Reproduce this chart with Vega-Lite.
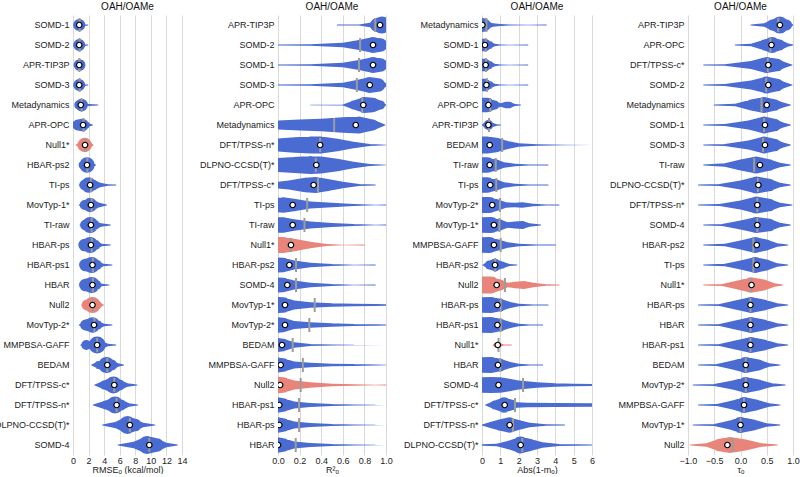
{
  "$schema": "https://vega.github.io/schema/vega-lite/v6.json",
  "background": "white",
  "padding": {"left": -6, "top": 2, "right": 0, "bottom": 0},
  "bounds": "flush",
  "spacing": 96,
  "resolve": {"scale": {"x": "independent", "y": "independent"}},
  "config": {
    "font": "Liberation Sans",
    "view": {"stroke": null},
    "axis": {"labelFont": "Liberation Sans", "titleFont": "Liberation Sans", "labelFontSize": 9, "titleFontSize": 9, "titleFontWeight": "normal", "labelColor": "#222222", "titleColor": "#222222"},
    "axisX": {"grid": true, "gridColor": "#d9d9d9", "gridWidth": 1, "domain": false, "ticks": false, "labelPadding": 1, "titlePadding": 0, "labelOverlap": false, "labelFlush": false, "tickCount": 20},
    "axisY": {"grid": false, "domain": false, "ticks": false, "labelPadding": 4},
    "title": {"fontSize": 10, "fontWeight": "normal", "font": "Liberation Sans", "color": "#111111", "offset": 3}
  },
  "datasets": {
    "p1": [
      {"m":"SOMD-1","t":"m","med":0.8,"mean":0.85,"x":[0.3,0.6,0.8,1.0,1.3,1.9],"w":[0,0.5,0.68,0.5,0.15,0]},
      {"m":"SOMD-2","t":"m","med":0.8,"mean":0.85,"x":[0.3,0.6,0.8,1.0,1.3,1.9],"w":[0,0.5,0.66,0.5,0.15,0]},
      {"m":"APR-TIP3P","t":"m","med":0.8,"mean":0.82,"x":[0.4,0.65,0.85,1.0,1.3],"w":[0,0.5,0.65,0.4,0]},
      {"m":"SOMD-3","t":"m","med":0.8,"mean":0.85,"x":[0.3,0.6,0.8,1.0,1.3,1.9],"w":[0,0.5,0.66,0.5,0.15,0]},
      {"m":"Metadynamics","t":"m","med":1.0,"mean":1.1,"x":[0.4,0.8,1.1,1.5,2.0,3.2],"w":[0,0.55,0.7,0.35,0.12,0]},
      {"m":"APR-OPC","t":"m","med":1.3,"mean":1.35,"x":[0.3,0.6,1.2,1.6,2.0,2.5],"w":[0,0.6,0.7,0.45,0.2,0]},
      {"m":"Null1*","t":"n","med":1.55,"mean":1.6,"x":[0.4,1.0,1.5,2.0,2.6],"w":[0,0.4,0.8,0.4,0]},
      {"m":"HBAR-ps2","t":"m","med":1.8,"mean":1.85,"x":[0.8,1.3,1.8,2.3,2.9],"w":[0,0.5,0.85,0.4,0]},
      {"m":"TI-ps","t":"m","med":2.2,"mean":2.3,"x":[0.8,1.5,2.0,2.6,3.5,4.5,5.5],"w":[0,0.6,0.85,0.6,0.25,0.08,0]},
      {"m":"MovTyp-1*","t":"m","med":2.3,"mean":2.4,"x":[0.8,1.5,2.2,2.8,3.4,4.3],"w":[0,0.55,0.8,0.45,0.25,0]},
      {"m":"TI-raw","t":"m","med":2.3,"mean":2.4,"x":[0.9,1.6,2.2,2.8,3.6,4.8],"w":[0,0.6,0.9,0.55,0.2,0]},
      {"m":"HBAR-ps","t":"m","med":2.3,"mean":2.4,"x":[0.8,1.5,2.2,2.9,3.7,4.8],"w":[0,0.7,0.9,0.55,0.15,0]},
      {"m":"HBAR-ps1","t":"m","med":2.5,"mean":2.55,"x":[0.8,1.6,2.4,3.1,3.9,5.0],"w":[0,0.7,0.9,0.55,0.15,0]},
      {"m":"HBAR","t":"m","med":2.5,"mean":2.55,"x":[0.8,1.6,2.4,3.0,3.7,4.6],"w":[0,0.7,0.9,0.55,0.15,0]},
      {"m":"Null2","t":"n","med":2.5,"mean":2.55,"x":[1.1,1.8,2.5,3.1,3.9],"w":[0,0.6,0.9,0.5,0]},
      {"m":"MovTyp-2*","t":"m","med":2.7,"mean":2.75,"x":[0.8,1.6,2.5,3.2,4.0,5.0],"w":[0,0.6,0.85,0.5,0.15,0]},
      {"m":"MMPBSA-GAFF","t":"m","med":3.1,"mean":3.1,"x":[1.0,1.7,2.2,2.7,3.1,3.7,4.5,5.5],"w":[0,0.55,0.35,0.6,0.95,0.45,0.15,0]},
      {"m":"BEDAM","t":"m","med":4.4,"mean":4.4,"x":[2.4,3.3,4.3,5.0,5.8,6.5],"w":[0,0.45,0.9,0.6,0.2,0]},
      {"m":"DFT/TPSS-c*","t":"m","med":5.3,"mean":5.3,"x":[2.8,4.0,5.2,6.0,7.0,8.2],"w":[0,0.5,0.95,0.6,0.2,0]},
      {"m":"DFT/TPSS-n*","t":"m","med":5.6,"mean":5.6,"x":[2.6,4.2,5.4,6.2,7.2,8.3],"w":[0,0.5,0.95,0.6,0.2,0]},
      {"m":"DLPNO-CCSD(T)*","t":"m","med":7.3,"mean":7.3,"x":[3.8,5.5,7.0,8.0,9.0,10.5],"w":[0,0.35,1.0,0.7,0.25,0]},
      {"m":"SOMD-4","t":"m","med":9.8,"mean":9.8,"x":[5.8,7.8,9.5,10.8,12.0,13.4],"w":[0,0.35,1.0,0.75,0.25,0]}
    ],
    "p2": [
      {"m":"APR-TIP3P","t":"m","med":0.945,"mean":0.9,"x":[0.55,0.75,0.85,0.92,0.96,0.99,1.02],"w":[0,0.06,0.25,0.8,0.95,0.6,0]},
      {"m":"SOMD-2","t":"m","med":0.88,"mean":0.76,"x":[-0.02,0.3,0.6,0.75,0.88,0.95,1.0,1.02],"w":[0.05,0.08,0.25,0.55,0.9,0.75,0.2,0]},
      {"m":"SOMD-1","t":"m","med":0.88,"mean":0.75,"x":[-0.02,0.3,0.6,0.75,0.88,0.95,1.0,1.02],"w":[0.05,0.08,0.25,0.55,0.9,0.75,0.2,0]},
      {"m":"SOMD-3","t":"m","med":0.85,"mean":0.73,"x":[-0.02,0.3,0.6,0.73,0.85,0.93,1.0,1.02],"w":[0.05,0.08,0.25,0.55,0.9,0.75,0.2,0]},
      {"m":"APR-OPC","t":"m","med":0.79,"mean":0.78,"x":[0.3,0.6,0.7,0.8,0.88,0.95,1.0],"w":[0.02,0.05,0.5,0.9,0.8,0.5,0]},
      {"m":"Metadynamics","t":"m","med":0.72,"mean":0.52,"x":[-0.02,0.2,0.4,0.6,0.75,0.88,0.99],"w":[0.5,0.6,0.7,0.85,0.95,0.6,0]},
      {"m":"DFT/TPSS-n*","t":"m","med":0.39,"mean":0.39,"x":[-0.02,0.15,0.3,0.4,0.55,0.7,0.85,1.0],"w":[0.7,0.85,0.95,0.95,0.7,0.35,0.1,0.02]},
      {"m":"DLPNO-CCSD(T)*","t":"m","med":0.355,"mean":0.35,"x":[-0.02,0.15,0.3,0.4,0.55,0.7,0.85,1.0],"w":[0.75,0.9,1.0,0.95,0.7,0.35,0.12,0.02]},
      {"m":"DFT/TPSS-c*","t":"m","med":0.33,"mean":0.37,"x":[-0.02,0.1,0.25,0.35,0.45,0.6,0.75,0.9],"w":[0.35,0.5,0.8,0.9,0.7,0.35,0.1,0]},
      {"m":"TI-ps","t":"m","med":0.136,"mean":0.27,"x":[-0.02,0.05,0.15,0.3,0.5,0.7,0.9,1.0],"w":[0.8,0.85,0.7,0.4,0.25,0.12,0.04,0]},
      {"m":"TI-raw","t":"m","med":0.136,"mean":0.245,"x":[-0.02,0.05,0.15,0.3,0.5,0.7,0.9,1.0],"w":[0.85,0.85,0.65,0.4,0.22,0.1,0.03,0]},
      {"m":"Null1*","t":"n","med":0.12,"mean":0.12,"x":[-0.02,0.05,0.15,0.3,0.45,0.6,0.8],"w":[0.9,0.9,0.7,0.35,0.12,0.03,0]},
      {"m":"HBAR-ps2","t":"m","med":0.105,"mean":0.167,"x":[-0.02,0.05,0.15,0.3,0.5,0.7,0.9],"w":[0.85,0.8,0.5,0.25,0.1,0.04,0]},
      {"m":"SOMD-4","t":"m","med":0.086,"mean":0.167,"x":[-0.02,0.05,0.15,0.3,0.5,0.7,0.9],"w":[0.85,0.8,0.5,0.25,0.1,0.04,0]},
      {"m":"MovTyp-1*","t":"m","med":0.065,"mean":0.34,"x":[-0.02,0.05,0.15,0.3,0.5,0.7,0.9,1.02],"w":[0.9,0.85,0.5,0.3,0.2,0.15,0.1,0.08]},
      {"m":"MovTyp-2*","t":"m","med":0.065,"mean":0.29,"x":[-0.02,0.05,0.15,0.3,0.5,0.7,0.9,1.02],"w":[0.9,0.8,0.45,0.3,0.2,0.12,0.08,0.04]},
      {"m":"BEDAM","t":"m","med":0.037,"mean":0.136,"x":[-0.02,0.05,0.15,0.3,0.5,0.7,1.0],"w":[0.8,0.7,0.3,0.12,0.06,0.03,0.01]},
      {"m":"MMPBSA-GAFF","t":"m","med":0.025,"mean":0.23,"x":[-0.02,0.05,0.15,0.3,0.5,0.7,0.9,1.0],"w":[0.85,0.75,0.4,0.25,0.15,0.1,0.05,0.02]},
      {"m":"Null2","t":"n","med":0.02,"mean":0.21,"x":[-0.02,0.05,0.15,0.3,0.5,0.7,0.9,1.0],"w":[0.95,0.85,0.5,0.3,0.15,0.08,0.03,0]},
      {"m":"HBAR-ps1","t":"m","med":0.012,"mean":0.195,"x":[-0.02,0.05,0.15,0.3,0.5,0.7,0.9,1.0],"w":[0.9,0.75,0.4,0.22,0.12,0.06,0.03,0.01]},
      {"m":"HBAR-ps","t":"m","med":0.012,"mean":0.195,"x":[-0.02,0.05,0.15,0.3,0.5,0.7,0.9,1.0],"w":[0.9,0.75,0.4,0.22,0.12,0.06,0.03,0.01]},
      {"m":"HBAR","t":"m","med":0.0,"mean":0.164,"x":[-0.02,0.05,0.15,0.3,0.5,0.7,0.9,1.0],"w":[0.9,0.75,0.4,0.22,0.12,0.06,0.03,0.01]}
    ],
    "p3": [
      {"m":"Metadynamics","t":"m","med":0.02,"mean":0.24,"x":[-0.05,0.1,0.3,0.6,1.0,1.5,2.5,3.5],"w":[0.8,0.75,0.45,0.2,0.1,0.05,0.02,0]},
      {"m":"SOMD-1","t":"m","med":0.16,"mean":0.2,"x":[-0.05,0.15,0.4,0.7,1.0,1.5,2.5],"w":[0.7,0.7,0.45,0.15,0.06,0.02,0]},
      {"m":"SOMD-3","t":"m","med":0.2,"mean":0.22,"x":[-0.05,0.15,0.4,0.7,1.0,1.5,2.5],"w":[0.7,0.7,0.45,0.15,0.06,0.02,0]},
      {"m":"SOMD-2","t":"m","med":0.24,"mean":0.26,"x":[-0.05,0.15,0.4,0.7,1.0,1.5,2.5],"w":[0.7,0.7,0.45,0.15,0.06,0.02,0]},
      {"m":"APR-OPC","t":"m","med":0.35,"mean":0.45,"x":[-0.05,0.3,0.7,1.0,1.3,1.5,1.8,2.1],"w":[0.8,0.8,0.5,0.2,0.35,0.35,0.1,0]},
      {"m":"APR-TIP3P","t":"m","med":0.35,"mean":0.38,"x":[0.0,0.2,0.35,0.5,0.8,1.0],"w":[0,0.3,0.55,0.3,0.08,0]},
      {"m":"BEDAM","t":"m","med":0.42,"mean":1.1,"x":[-0.05,0.3,0.8,1.3,2.0,3.0,4.5,6.0],"w":[0.95,0.95,0.8,0.5,0.2,0.08,0.03,0.01]},
      {"m":"TI-raw","t":"m","med":0.42,"mean":0.75,"x":[-0.05,0.3,0.8,1.2,1.8,2.6,3.6],"w":[0.85,0.85,0.6,0.3,0.15,0.05,0]},
      {"m":"TI-ps","t":"m","med":0.45,"mean":0.78,"x":[-0.05,0.3,0.8,1.2,1.8,2.6,3.6],"w":[0.85,0.85,0.6,0.3,0.15,0.05,0]},
      {"m":"MovTyp-2*","t":"m","med":0.56,"mean":0.98,"x":[-0.05,0.4,0.9,1.3,1.8,2.2,2.8,3.5,4.2],"w":[0.9,0.9,0.6,0.3,0.25,0.3,0.15,0.05,0]},
      {"m":"MovTyp-1*","t":"m","med":0.65,"mean":0.95,"x":[-0.05,0.5,1.0,1.4,1.8,2.2,2.6,3.2],"w":[0.85,0.9,0.6,0.3,0.4,0.45,0.2,0]},
      {"m":"MMPBSA-GAFF","t":"m","med":0.65,"mean":1.02,"x":[-0.05,0.4,0.9,1.4,2.0,3.0,4.0],"w":[0.85,0.9,0.6,0.3,0.15,0.05,0]},
      {"m":"HBAR-ps2","t":"m","med":0.71,"mean":0.72,"x":[0.05,0.4,0.7,1.1,1.5,1.9],"w":[0,0.5,0.7,0.4,0.12,0]},
      {"m":"Null2","t":"n","med":0.8,"mean":1.25,"x":[-0.05,0.5,1.0,1.4,1.8,2.3,2.8,3.5,4.2],"w":[0.95,0.95,0.6,0.25,0.35,0.45,0.25,0.08,0]},
      {"m":"HBAR-ps","t":"m","med":0.84,"mean":1.02,"x":[-0.05,0.5,1.0,1.5,2.0,2.8,3.6],"w":[0.85,0.9,0.7,0.35,0.15,0.05,0]},
      {"m":"HBAR-ps1","t":"m","med":0.84,"mean":1.02,"x":[-0.05,0.5,1.0,1.5,2.0,2.6,3.3],"w":[0.85,0.9,0.7,0.35,0.15,0.05,0]},
      {"m":"Null1*","t":"n","med":0.86,"mean":0.9,"x":[0.6,0.75,0.86,1.0,1.2,1.6],"w":[0,0.25,0.35,0.2,0.05,0]},
      {"m":"HBAR","t":"m","med":0.87,"mean":1.0,"x":[-0.05,0.5,1.0,1.5,2.0,2.6,3.3],"w":[0.85,0.9,0.7,0.35,0.15,0.05,0]},
      {"m":"SOMD-4","t":"m","med":0.9,"mean":2.24,"x":[-0.05,0.5,1.0,1.5,2.0,3.0,4.0,5.0,6.1],"w":[0.85,0.9,0.85,0.7,0.5,0.3,0.2,0.15,0.12]},
      {"m":"DFT/TPSS-c*","t":"m","med":1.24,"mean":1.8,"x":[0.2,0.7,1.2,1.6,1.9,2.5,4.0,6.1],"w":[0,0.5,0.85,0.6,0.3,0.25,0.22,0.2]},
      {"m":"DFT/TPSS-n*","t":"m","med":1.51,"mean":1.69,"x":[0.0,0.5,1.0,1.5,2.0,2.6,3.5,4.5],"w":[0.05,0.35,0.65,0.85,0.55,0.25,0.08,0]},
      {"m":"DLPNO-CCSD(T)*","t":"m","med":2.11,"mean":2.2,"x":[-0.05,0.8,1.5,2.1,2.6,3.3,4.2,6.0],"w":[0.08,0.15,0.5,0.95,0.7,0.3,0.1,0.05]}
    ],
    "p4": [
      {"m":"APR-TIP3P","t":"m","med":0.75,"mean":0.72,"x":[0.2,0.45,0.6,0.75,0.88,1.0],"w":[0,0.2,0.6,0.95,0.6,0]},
      {"m":"APR-OPC","t":"m","med":0.59,"mean":0.57,"x":[-0.1,0.2,0.45,0.6,0.75,0.9,1.0],"w":[0,0.15,0.6,0.9,0.6,0.2,0]},
      {"m":"DFT/TPSS-c*","t":"m","med":0.53,"mean":0.52,"x":[-0.7,-0.3,0.2,0.5,0.7,0.85,0.98],"w":[0,0.08,0.45,0.9,0.7,0.3,0]},
      {"m":"SOMD-2","t":"m","med":0.53,"mean":0.49,"x":[-0.7,-0.3,0.2,0.5,0.7,0.85,0.98],"w":[0,0.1,0.5,0.95,0.7,0.3,0]},
      {"m":"Metadynamics","t":"m","med":0.5,"mean":0.4,"x":[-0.5,-0.1,0.2,0.45,0.65,0.8,0.95],"w":[0,0.15,0.6,0.9,0.65,0.3,0]},
      {"m":"SOMD-1","t":"m","med":0.467,"mean":0.45,"x":[-0.7,-0.3,0.15,0.45,0.65,0.8,0.95],"w":[0,0.1,0.5,0.95,0.7,0.3,0]},
      {"m":"SOMD-3","t":"m","med":0.467,"mean":0.43,"x":[-0.7,-0.3,0.15,0.45,0.65,0.8,0.95],"w":[0,0.1,0.5,0.95,0.7,0.3,0]},
      {"m":"TI-raw","t":"m","med":0.37,"mean":0.26,"x":[-0.7,-0.3,0.0,0.3,0.55,0.75,0.95],"w":[0,0.2,0.6,0.95,0.65,0.25,0]},
      {"m":"DLPNO-CCSD(T)*","t":"m","med":0.34,"mean":0.33,"x":[-0.8,-0.4,0.0,0.3,0.55,0.75,0.95],"w":[0,0.1,0.5,0.95,0.7,0.25,0]},
      {"m":"DFT/TPSS-n*","t":"m","med":0.32,"mean":0.32,"x":[-0.8,-0.4,0.0,0.3,0.55,0.75,0.98],"w":[0,0.12,0.5,0.95,0.7,0.25,0]},
      {"m":"SOMD-4","t":"m","med":0.32,"mean":0.32,"x":[-0.7,-0.35,0.0,0.3,0.55,0.75,0.95],"w":[0,0.1,0.5,0.9,0.7,0.25,0]},
      {"m":"HBAR-ps2","t":"m","med":0.31,"mean":0.245,"x":[-0.7,-0.3,0.0,0.28,0.5,0.7,0.9],"w":[0,0.15,0.5,0.9,0.6,0.2,0]},
      {"m":"TI-ps","t":"m","med":0.31,"mean":0.245,"x":[-0.7,-0.3,0.0,0.28,0.5,0.7,0.9],"w":[0,0.15,0.5,0.9,0.6,0.2,0]},
      {"m":"Null1*","t":"n","med":0.21,"mean":0.2,"x":[-0.7,-0.35,-0.05,0.2,0.45,0.65,0.8],"w":[0,0.12,0.5,0.85,0.6,0.2,0]},
      {"m":"HBAR-ps","t":"m","med":0.19,"mean":0.19,"x":[-0.8,-0.4,-0.1,0.2,0.45,0.7,0.9],"w":[0,0.12,0.5,0.9,0.6,0.2,0]},
      {"m":"HBAR","t":"m","med":0.19,"mean":0.19,"x":[-0.8,-0.4,-0.1,0.2,0.45,0.7,0.9],"w":[0,0.12,0.5,0.9,0.6,0.2,0]},
      {"m":"HBAR-ps1","t":"m","med":0.19,"mean":0.19,"x":[-0.8,-0.4,-0.1,0.2,0.45,0.7,0.9],"w":[0,0.12,0.5,0.9,0.6,0.2,0]},
      {"m":"BEDAM","t":"m","med":0.1,"mean":0.1,"x":[-0.8,-0.45,-0.15,0.1,0.35,0.55,0.75],"w":[0,0.1,0.5,0.9,0.6,0.2,0]},
      {"m":"MovTyp-2*","t":"m","med":0.1,"mean":0.1,"x":[-0.9,-0.5,-0.15,0.1,0.35,0.6,0.85],"w":[0,0.1,0.5,0.9,0.6,0.2,0]},
      {"m":"MMPBSA-GAFF","t":"m","med":0.067,"mean":0.067,"x":[-0.8,-0.45,-0.15,0.07,0.3,0.55,0.75],"w":[0,0.1,0.5,0.9,0.6,0.2,0]},
      {"m":"MovTyp-1*","t":"m","med":0.0,"mean":0.0,"x":[-0.9,-0.5,-0.2,0.0,0.25,0.5,0.75],"w":[0,0.1,0.5,0.9,0.6,0.2,0]},
      {"m":"Null2","t":"n","med":-0.25,"mean":-0.15,"x":[-0.95,-0.65,-0.4,-0.2,0.1,0.4,0.7],"w":[0,0.2,0.7,0.9,0.6,0.2,0]}
    ]
  },
  "hconcat": [
    {
      "title": "OAH/OAMe",
      "width": 109, "height": 440,
      "data": {"name": "p1"},
      "encoding": {"y": {"field": "m", "type": "nominal", "sort": null, "axis": {"title": null}}},
      "layer": [
        {"transform": [{"flatten": ["x", "w"]}],
         "mark": {"type": "trail", "clip": true},
         "encoding": {
           "x": {"field": "x", "type": "quantitative", "scale": {"domain": [0, 14], "nice": false}, "axis": {"title": "RMSEₒ (kcal/mol)", "values": [0,2,4,6,8,10,12,14], "format": "d"}},
           "detail": {"field": "m"},
           "size": {"field": "w", "type": "quantitative", "scale": {"domain": [0, 1], "range": [0, 18]}, "legend": null},
           "color": {"field": "t", "type": "nominal", "scale": {"domain": ["m", "n"], "range": ["#4a6bd1", "#e8847a"]}, "legend": null}
         }},
        {"mark": {"type": "tick", "color": "#9c9c9c", "thickness": 2, "size": 14, "opacity": 1},
         "encoding": {"x": {"field": "mean", "type": "quantitative"}}},
        {"mark": {"type": "point", "filled": true, "fill": "white", "stroke": "black", "strokeWidth": 1.2, "size": 30, "opacity": 1, "clip": true},
         "encoding": {"x": {"field": "med", "type": "quantitative"}}}
      ]
    },
    {
      "title": "OAH/OAMe",
      "width": 108, "height": 440,
      "data": {"name": "p2"},
      "encoding": {"y": {"field": "m", "type": "nominal", "sort": null, "axis": {"title": null}}},
      "layer": [
        {"transform": [{"flatten": ["x", "w"]}],
         "mark": {"type": "trail", "clip": true},
         "encoding": {
           "x": {"field": "x", "type": "quantitative", "scale": {"domain": [0, 1], "nice": false}, "axis": {"title": "R²ₒ", "values": [0,0.2,0.4,0.6,0.8,1.0], "format": ".1f"}},
           "detail": {"field": "m"},
           "size": {"field": "w", "type": "quantitative", "scale": {"domain": [0, 1], "range": [0, 18]}, "legend": null},
           "color": {"field": "t", "type": "nominal", "scale": {"domain": ["m", "n"], "range": ["#4a6bd1", "#e8847a"]}, "legend": null}
         }},
        {"mark": {"type": "tick", "color": "#9c9c9c", "thickness": 2, "size": 14, "opacity": 1},
         "encoding": {"x": {"field": "mean", "type": "quantitative"}}},
        {"mark": {"type": "point", "filled": true, "fill": "white", "stroke": "black", "strokeWidth": 1.2, "size": 30, "opacity": 1, "clip": true},
         "encoding": {"x": {"field": "med", "type": "quantitative"}}}
      ]
    },
    {
      "title": "OAH/OAMe",
      "width": 110, "height": 440,
      "data": {"name": "p3"},
      "encoding": {"y": {"field": "m", "type": "nominal", "sort": null, "axis": {"title": null}}},
      "layer": [
        {"transform": [{"flatten": ["x", "w"]}],
         "mark": {"type": "trail", "clip": true},
         "encoding": {
           "x": {"field": "x", "type": "quantitative", "scale": {"domain": [0, 6], "nice": false}, "axis": {"title": "Abs(1-mₒ)", "values": [0,1,2,3,4,5,6], "format": "d"}},
           "detail": {"field": "m"},
           "size": {"field": "w", "type": "quantitative", "scale": {"domain": [0, 1], "range": [0, 18]}, "legend": null},
           "color": {"field": "t", "type": "nominal", "scale": {"domain": ["m", "n"], "range": ["#4a6bd1", "#e8847a"]}, "legend": null}
         }},
        {"mark": {"type": "tick", "color": "#9c9c9c", "thickness": 2, "size": 14, "opacity": 1},
         "encoding": {"x": {"field": "mean", "type": "quantitative"}}},
        {"mark": {"type": "point", "filled": true, "fill": "white", "stroke": "black", "strokeWidth": 1.2, "size": 30, "opacity": 1, "clip": true},
         "encoding": {"x": {"field": "med", "type": "quantitative"}}}
      ]
    },
    {
      "title": "OAH/OAMe",
      "width": 105, "height": 440,
      "data": {"name": "p4"},
      "encoding": {"y": {"field": "m", "type": "nominal", "sort": null, "axis": {"title": null}}},
      "layer": [
        {"transform": [{"flatten": ["x", "w"]}],
         "mark": {"type": "trail", "clip": true},
         "encoding": {
           "x": {"field": "x", "type": "quantitative", "scale": {"domain": [-1, 1], "nice": false}, "axis": {"title": "τₒ", "values": [-1,-0.5,0,0.5,1], "format": ".1f"}},
           "detail": {"field": "m"},
           "size": {"field": "w", "type": "quantitative", "scale": {"domain": [0, 1], "range": [0, 18]}, "legend": null},
           "color": {"field": "t", "type": "nominal", "scale": {"domain": ["m", "n"], "range": ["#4a6bd1", "#e8847a"]}, "legend": null}
         }},
        {"mark": {"type": "tick", "color": "#9c9c9c", "thickness": 2, "size": 14, "opacity": 1},
         "encoding": {"x": {"field": "mean", "type": "quantitative"}}},
        {"mark": {"type": "point", "filled": true, "fill": "white", "stroke": "black", "strokeWidth": 1.2, "size": 30, "opacity": 1, "clip": true},
         "encoding": {"x": {"field": "med", "type": "quantitative"}}}
      ]
    }
  ]
}
